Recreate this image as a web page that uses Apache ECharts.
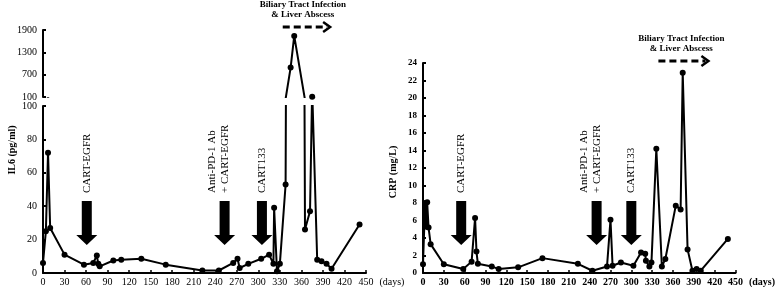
<!DOCTYPE html>
<html>
<head>
<meta charset="utf-8">
<script src="https://cdn.jsdelivr.net/npm/echarts@6/dist/echarts.min.js"></script>
<style>
  html, body { margin: 0; padding: 0; background: #fff; }
  #chart { width: 778px; height: 287px; }
</style>
</head>
<body>
<div id="chart"></div>
<script>
  // IL6 (pg/ml), left panel, broken axis at 100
  const il6Days = [0, 4, 7, 10, 30, 57, 70, 75, 77, 79, 98, 109, 137, 171, 222, 245, 265, 271, 274, 286, 304, 315, 321, 322, 326, 330, 338, 345, 350, 365, 372, 375, 382, 388, 395, 402, 441];
  const il6Values = [6, 25, 72, 27, 11, 5, 6, 10.5, 5.5, 4, 7.5, 8, 8.5, 5, 1.5, 1.5, 6, 8.5, 3, 5.5, 8.5, 11, 5.5, 39, 1, 5.5, 53, 890, 1740, 26, 37, 110, 8, 7, 5.5, 2.5, 29];

  // CRP (mg/L), right panel
  const crpDays = [0, 3, 5, 6, 8, 11, 30, 58, 70, 75, 77, 79, 99, 109, 137, 172, 223, 244, 265, 270, 273, 285, 303, 314, 320, 321, 326, 329, 336, 344, 349, 364, 371, 374, 381, 388, 394, 400, 439];
  const crpValues = [1, 8, 5.3, 8.1, 5.2, 3.3, 1, 0.45, 1.3, 6.3, 2.45, 1.05, 0.75, 0.45, 0.65, 1.7, 1.05, 0.26, 0.75, 6.1, 0.83, 1.2, 0.83, 2.34, 2.2, 1.4, 0.75, 1.2, 14.2, 0.75, 1.6, 7.7, 7.25, 22.9, 2.7, 0.26, 0.45, 0.26, 3.9];

  const upperTicks = [100, 700, 1300, 1900];

  // treatment arrows: [label, day]
  const il6Treatments = [['CART-EGFR', 61], ['Anti-PD-1 Ab\n+ CART-EGFR', 253], ['CART133', 305]];
  const crpTreatments = [['CART-EGFR', 55], ['Anti-PD-1 Ab\n+ CART-EGFR', 250], ['CART133', 300]];
  const infectionLabel = 'Biliary Tract Infection\n& Liver Abscess';
  const il6Infection = [334, 400, 362];
  const crpInfection = [339, 411, 372];

  const serif = '"Liberation Serif", "Times New Roman", serif';
  const il6Pairs = il6Days.map((d, i) => [d, il6Values[i]]);
  const crpPairs = crpDays.map((d, i) => [d, crpValues[i]]);

  const chart = echarts.init(document.getElementById('chart'));

  function xAxis(gridIndex, bold, show, nameGap) {
    return {
      type: 'value', gridIndex: gridIndex, min: 0, max: 450, interval: 30, show: show,
      axisLine: { onZero: false, lineStyle: { color: '#000', width: 2 } },
      axisTick: { inside: true, length: 3, lineStyle: { color: '#000', width: 1.5 } },
      axisLabel: { color: '#000', fontFamily: serif, fontSize: 10, fontWeight: bold ? 'bold' : 'normal', margin: 4 },
      splitLine: { show: false },
      name: '(days)', nameLocation: 'end', nameGap: nameGap,
      nameTextStyle: { color: '#000', fontFamily: serif, fontSize: 10, fontWeight: bold ? 'bold' : 'normal',
        verticalAlign: 'top', padding: [4, 0, 0, 0] }
    };
  }

  function yAxis(gridIndex, min, max, extra, bold) {
    return Object.assign({
      type: 'value', gridIndex: gridIndex, min: min, max: max,
      axisLine: { show: true, lineStyle: { color: '#000', width: 2 } },
      axisTick: { show: true, inside: true, length: 3, lineStyle: { color: '#000', width: 2 } },
      axisLabel: { color: '#000', fontFamily: serif, fontSize: bold ? 9 : 10, fontWeight: bold ? 'bold' : 'normal', margin: 6 },
      splitLine: { show: false }
    }, extra);
  }

  function lineSeries(xi, yi, data, sizeFn) {
    return {
      type: 'line', xAxisIndex: xi, yAxisIndex: yi, data: data,
      symbol: 'circle', symbolSize: sizeFn, clip: true, silent: true,
      lineStyle: { color: '#000', width: 2 }, itemStyle: { color: '#000' }
    };
  }

  chart.setOption({
    animation: false,
    grid: [
      { left: 43, top: 30, width: 323, height: 67 },
      { left: 43, top: 106, width: 323, height: 167 },
      { left: 423, top: 63, width: 313, height: 212 }
    ],
    xAxis: [
      xAxis(0, false, false, 7),
      xAxis(1, false, true, 7),
      xAxis(2, true, true, 12)
    ],
    yAxis: [
      yAxis(0, 100, 1900, {
        axisLabel: { color: '#000', fontFamily: serif, fontSize: 10, margin: 6, customValues: upperTicks,
          formatter: v => String(v) },
        axisTick: { show: true, inside: true, length: 3, lineStyle: { color: '#000', width: 2 }, customValues: upperTicks }
      }, false),
      yAxis(1, 0, 100, { interval: 20 }, false),
      yAxis(2, 0, 24, { interval: 2 }, true)
    ],
    series: [
      lineSeries(0, 0, il6Pairs, v => v[1] >= 100 ? 6 : 0),
      lineSeries(1, 1, il6Pairs, v => v[1] <= 100 ? 6 : 0),
      lineSeries(2, 2, crpPairs, 6)
    ]
  });

  function treatmentGraphics(xAxisIndex, list, textShift) {
    const out = [];
    list.forEach(([label, day]) => {
      const cx = chart.convertToPixel({ xAxisIndex: xAxisIndex }, day);
      out.push({
        type: 'polygon', silent: true,
        shape: { points: [[cx - 5, 201], [cx + 5, 201], [cx + 5, 235], [cx + 10.5, 235], [cx, 245], [cx - 10.5, 235], [cx - 5, 235]] },
        style: { fill: '#000' }
      });
      const twoLines = label.indexOf('\n') >= 0;
      out.push({
        type: 'text', silent: true, x: cx + (twoLines ? textShift : 0), y: 193, rotation: Math.PI / 2,
        style: { text: label, fill: '#000', font: '11px ' + serif, align: 'left',
          verticalAlign: 'middle', lineHeight: 13 }
      });
    });
    return out;
  }

  function infectionGraphics(xAxisIndex, spec, textY, arrowY) {
    const x0 = chart.convertToPixel({ xAxisIndex: xAxisIndex }, spec[0]);
    const x1 = chart.convertToPixel({ xAxisIndex: xAxisIndex }, spec[1]);
    const tx = chart.convertToPixel({ xAxisIndex: xAxisIndex }, spec[2]);
    return [
      {
        type: 'text', silent: true, x: tx, y: textY,
        style: { text: infectionLabel, fill: '#000', font: 'bold 9px ' + serif, align: 'center', verticalAlign: 'top', lineHeight: 10 }
      },
      {
        type: 'line', silent: true, shape: { x1: x0, y1: arrowY, x2: x1 - 3, y2: arrowY },
        style: { stroke: '#000', lineWidth: 3, lineDash: [7, 4] }
      },
      {
        type: 'polyline', silent: true, shape: { points: [[x1 - 7, arrowY - 5], [x1, arrowY], [x1 - 7, arrowY + 5]] },
        style: { stroke: '#000', lineWidth: 2.5, fill: null }
      }
    ];
  }

  const graphics = []
    .concat(treatmentGraphics(1, il6Treatments, -6))
    .concat(treatmentGraphics(2, crpTreatments, -6))
    .concat(infectionGraphics(1, il6Infection, 0, 27))
    .concat(infectionGraphics(2, crpInfection, 34, 61))
    .concat([
      { type: 'text', silent: true, x: 12, y: 150, rotation: Math.PI / 2,
        style: { text: 'IL6 (pg/ml)', fill: '#000', font: 'bold 10px ' + serif, align: 'center', verticalAlign: 'middle' } },
      { type: 'text', silent: true, x: 393, y: 172, rotation: Math.PI / 2,
        style: { text: 'CRP (mg/L)', fill: '#000', font: 'bold 10px ' + serif, align: 'center', verticalAlign: 'middle' } }
    ]);

  chart.setOption({ graphic: graphics });
</script>
</body>
</html>
